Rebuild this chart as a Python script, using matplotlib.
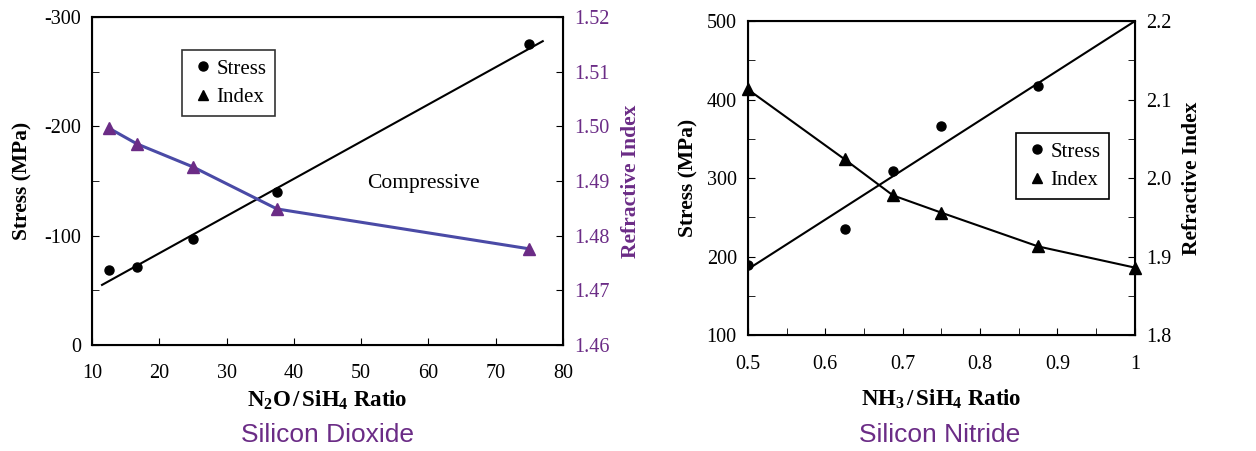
import matplotlib
matplotlib.use("Agg")
import matplotlib.pyplot as plt
from matplotlib.lines import Line2D
from matplotlib.ticker import MultipleLocator

plt.rcParams['font.family'] = ['Liberation Serif', 'DejaVu Serif']
plt.rcParams['mathtext.fontset'] = 'custom'
plt.rcParams['mathtext.rm'] = 'Liberation Serif'
plt.rcParams['mathtext.bf'] = 'Liberation Serif:bold'
plt.rcParams['mathtext.it'] = 'Liberation Serif:italic'
plt.rcParams['axes.unicode_minus'] = False

PURPLE = '#6b2c86'
BLUE = '#4a4aa6'
TICK_FS = 14.5
LABEL_FS = 15.5

# ---- Silicon dioxide data ----
sio2_ratio = [12.5, 16.7, 25, 37.5, 75]
sio2_stress = [-69, -71, -97, -140, -275]
sio2_index = [1.4997, 1.4968, 1.4926, 1.4849, 1.4776]
sio2_fit_x = [11.5, 77]
sio2_fit_y = [-55, -278]

# ---- Silicon nitride data ----
sin_ratio = [0.5, 0.625, 0.6875, 0.75, 0.875]
sin_stress = [189, 235, 309, 367, 418]
sin_index_ratio = [0.5, 0.625, 0.6875, 0.75, 0.875, 1.0]
sin_index = [2.113, 2.024, 1.978, 1.956, 1.913, 1.886]
sin_fit_x = [0.5, 1.0]
sin_fit_y = [184, 500]

fig = plt.figure(figsize=(12.56, 4.51), dpi=100)

# ================= Left panel =================
ax1 = fig.add_axes([0.0732, 0.235, 0.375, 0.727])
ax1.plot(sio2_fit_x, sio2_fit_y, color='black', lw=1.5, zorder=2)
ax1.plot(sio2_ratio, sio2_stress, 'o', color='black', ms=6.5, zorder=3)
ax1.set_xlim(10, 80)
ax1.set_ylim(0, -300)
ax1.set_xticks([10, 20, 30, 40, 50, 60, 70, 80])
ax1.set_yticks([0, -100, -200, -300])
ax1.yaxis.set_minor_locator(MultipleLocator(50))
ax1.tick_params(axis='both', which='both', direction='in', labelsize=TICK_FS, length=5)
ax1.tick_params(axis='x', pad=14)
ax1.tick_params(axis='y', pad=8)
ax1.set_ylabel('Stress (MPa)', fontsize=LABEL_FS, fontweight='bold', labelpad=8)
ax1.set_xlabel(r'$\mathbf{N_2O\,/\,SiH_4\ Ratio}$', fontsize=16.5, labelpad=4)
for s in ax1.spines.values():
    s.set_linewidth(1.5)
ax1.text(59.3, -148, 'Compressive', fontsize=15.5, ha='center', va='center')

ax1b = ax1.twinx()
ax1b.plot(sio2_ratio, sio2_index, '-', color=BLUE, lw=2.2, zorder=2)
ax1b.plot(sio2_ratio, sio2_index, '^', color=PURPLE, ms=9, zorder=3)
ax1b.set_ylim(1.46, 1.52)
ax1b.set_yticks([1.46, 1.47, 1.48, 1.49, 1.50, 1.51, 1.52])
ax1b.set_yticklabels(['1.46', '1.47', '1.48', '1.49', '1.50', '1.51', '1.52'])
ax1b.tick_params(axis='y', direction='in', labelsize=TICK_FS, labelcolor=PURPLE, length=5, pad=8)
ax1b.set_ylabel('Refractive Index', fontsize=LABEL_FS, fontweight='bold', color=PURPLE, labelpad=8)

h = [Line2D([], [], marker='o', ls='none', color='black', ms=6.5),
     Line2D([], [], marker='^', ls='none', color='black', ms=7.5)]
leg1 = ax1.legend(h, ['Stress', 'Index'], loc='upper left', bbox_to_anchor=(0.191, 0.899),
                  fontsize=15, frameon=True, fancybox=False, edgecolor='black',
                  handletextpad=0.05, handlelength=1.2, borderpad=0.42, labelspacing=0.42,
                  borderaxespad=0)
leg1.get_frame().set_linewidth(1.2)

fig.text(0.2605, 0.008, 'Silicon Dioxide', fontsize=19, color=PURPLE,
         family='Liberation Sans', ha='center', va='bottom')

# ================= Right panel =================
ax2 = fig.add_axes([0.5955, 0.257, 0.308, 0.696])
ax2.plot(sin_fit_x, sin_fit_y, color='black', lw=1.5, zorder=2)
ax2.plot(sin_ratio, sin_stress, 'o', color='black', ms=6.5, zorder=3)
ax2.set_xlim(0.5, 1.0)
ax2.set_ylim(100, 500)
ax2.set_xticks([0.5, 0.6, 0.7, 0.8, 0.9, 1.0])
ax2.set_xticklabels(['0.5', '0.6', '0.7', '0.8', '0.9', '1'])
ax2.set_yticks([100, 200, 300, 400, 500])
ax2.xaxis.set_minor_locator(MultipleLocator(0.05))
ax2.yaxis.set_minor_locator(MultipleLocator(50))
ax2.tick_params(axis='both', which='both', direction='in', labelsize=TICK_FS, length=5)
ax2.tick_params(axis='x', pad=14)
ax2.tick_params(axis='y', pad=8)
ax2.set_ylabel('Stress (MPa)', fontsize=LABEL_FS, fontweight='bold', labelpad=6)
ax2.set_xlabel(r'$\mathbf{NH_3\,/\,SiH_4\ Ratio}$', fontsize=16.5, labelpad=10)
for s in ax2.spines.values():
    s.set_linewidth(1.5)

ax2b = ax2.twinx()
ax2b.plot(sin_index_ratio, sin_index, '-^', color='black', lw=1.5, ms=8.5, zorder=3,
          clip_on=False)
ax2b.set_ylim(1.8, 2.2)
ax2b.set_yticks([1.8, 1.9, 2.0, 2.1, 2.2])
ax2b.set_yticklabels(['1.8', '1.9', '2.0', '2.1', '2.2'])
ax2b.yaxis.set_minor_locator(MultipleLocator(0.05))
ax2b.tick_params(axis='y', which='both', direction='in', labelsize=TICK_FS, length=5, pad=8)
ax2b.set_ylabel('Refractive Index', fontsize=LABEL_FS, fontweight='bold', labelpad=8)

leg2 = ax2b.legend(h, ['Stress', 'Index'], loc='upper left', bbox_to_anchor=(0.692, 0.643),
                   fontsize=15, frameon=True, fancybox=False, edgecolor='black',
                   handletextpad=0.05, handlelength=1.2, borderpad=0.42, labelspacing=0.42,
                   borderaxespad=0, framealpha=1)
leg2.get_frame().set_linewidth(1.2)

fig.text(0.7485, 0.008, 'Silicon Nitride', fontsize=19, color=PURPLE,
         family='Liberation Sans', ha='center', va='bottom')

fig.savefig('out.png', dpi=100)
